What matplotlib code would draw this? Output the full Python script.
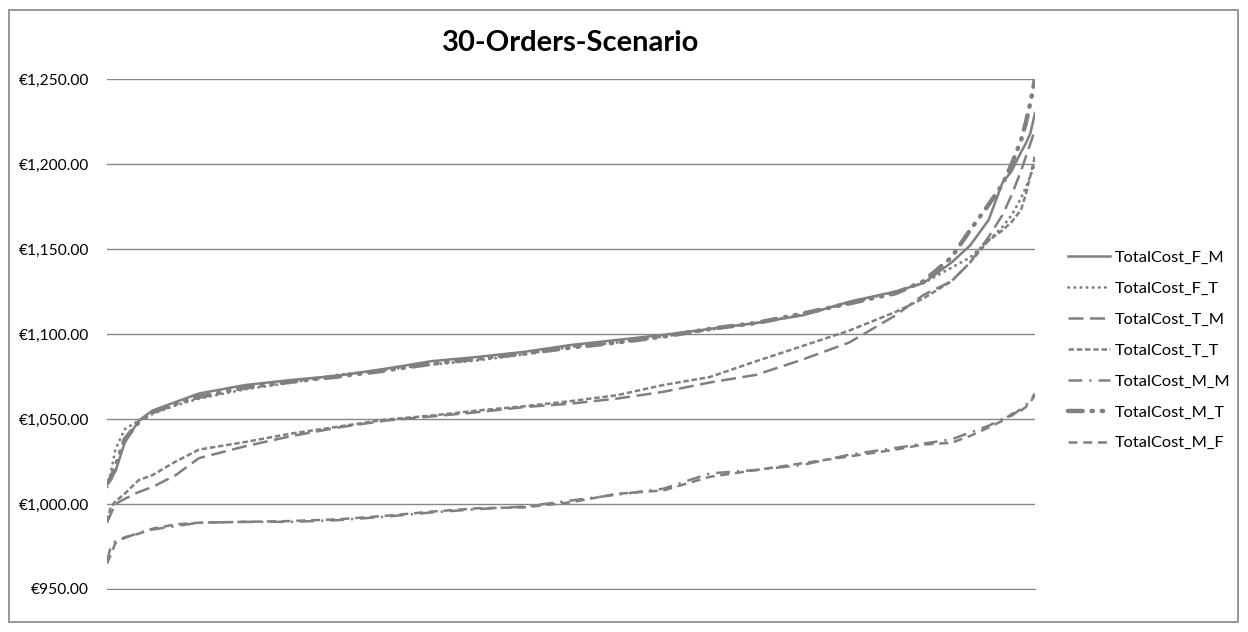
import matplotlib
matplotlib.use("Agg")
import matplotlib.pyplot as plt
from matplotlib.patches import Rectangle
from matplotlib.ticker import FuncFormatter

plt.rcParams['font.family'] = ['Lato', 'DejaVu Sans']

# sample number (out of 1000 sorted runs) at which each cost is taken
rank = [1, 5, 10, 20, 35, 50, 75, 100, 150, 200, 250, 300, 350, 400, 450, 500,
        550, 600, 650, 700, 750, 800, 850, 880, 910, 930, 950, 965, 975, 985,
        990, 995, 1000]

cost_F_M = [1013, 1016, 1019, 1036, 1049, 1055, 1060, 1065, 1070, 1073, 1075.5,
            1079.5, 1084, 1086.5, 1089.5, 1093.5, 1096.5, 1099.5, 1103, 1106.5,
            1111, 1119, 1125, 1130, 1142, 1152, 1167, 1189, 1196, 1207, 1212,
            1218, 1230]
cost_F_T = [1010, 1018, 1032, 1044, 1049, 1053, 1058, 1062, 1067.5, 1071.5, 1076,
            1079, 1082, 1084.5, 1088, 1092.5, 1095, 1098.5, 1102.5, 1106.5,
            1111.5, 1118, 1125, 1130, 1139, 1145, 1155, 1163, 1170, 1180, 1186,
            1193, 1200]
cost_T_M = [989, 994, 1000, 1003, 1007, 1010, 1017, 1027, 1034, 1040, 1045, 1049,
            1051.5, 1054, 1057, 1059, 1062, 1066, 1071.5, 1076, 1085, 1095, 1111,
            1123, 1131, 1142, 1157, 1170, 1182, 1196, 1204, 1212, 1220]
cost_T_T = [990, 998, 1001.5, 1006, 1014, 1017, 1025, 1032, 1036.5, 1041.5,
            1045.5, 1049.6, 1052, 1055, 1057.5, 1060.5, 1064, 1070, 1074.7, 1084,
            1093, 1102, 1113, 1121, 1131, 1142, 1155, 1161, 1166, 1173, 1182,
            1193, 1205]
cost_M_M = [966, 975, 978, 980, 983, 985, 987, 989, 989.5, 989.5, 990.5, 992.5,
            995, 997, 998.5, 1002, 1005.5, 1009, 1018, 1020, 1023, 1029, 1033,
            1035.5, 1038, 1042, 1046, 1050, 1052, 1056, 1058, 1061, 1065]
cost_M_T = [1012, 1015, 1022, 1038, 1048, 1054, 1059, 1063, 1068.5, 1072, 1075,
            1078.5, 1082.5, 1085.5, 1088.5, 1092, 1095, 1098.5, 1103, 1106.5,
            1112, 1118, 1124, 1131, 1145, 1161, 1176, 1188, 1200, 1214, 1224,
            1236, 1250]
cost_M_F = [965, 970, 977, 980.5, 982.5, 985.5, 988, 989, 989.5, 990, 991, 993,
            995.5, 997.5, 998, 1001, 1006, 1008, 1016, 1020, 1024, 1028, 1032,
            1035, 1036, 1040, 1045, 1049, 1053, 1055, 1057, 1060, 1064]

series = [
    ("TotalCost_F_M", cost_F_M, dict(lw=1.8, ls="-")),
    ("TotalCost_F_T", cost_F_T, dict(lw=2.1, ls=(0, (0.1, 2.0)), dash_capstyle="round")),
    ("TotalCost_T_M", cost_T_M, dict(lw=1.8, ls=(0, (6.0, 2.6)))),
    ("TotalCost_T_T", cost_T_T, dict(lw=1.8, ls=(0, (2.2, 1.1)))),
    ("TotalCost_M_M", cost_M_M, dict(lw=1.8, ls=(0, (5.5, 2.8, 0.9, 2.8)))),
    ("TotalCost_M_T", cost_M_T, dict(lw=3.2, ls=(0, (3.3, 2.0, 0.3, 2.0, 0.3, 2.0)),
                                     dash_capstyle="round")),
    ("TotalCost_M_F", cost_M_F, dict(lw=1.8, ls=(0, (3.6, 2.3)))),
]

fig = plt.figure(figsize=(12.48, 6.32), dpi=100)
ax = fig.add_axes([107 / 1248, 1 - 589 / 632, 928 / 1248, 510 / 632])

fig.patches.append(Rectangle((9 / 1248, 1 - 622 / 632), 1229 / 1248, 612 / 632,
                             transform=fig.transFigure, fill=False,
                             edgecolor="#868686", lw=1.2))

for name, vals, style in series:
    ax.plot(rank, vals, color="#808080", label=name, **style)

ax.set_xlim(1, 1000)
ax.set_ylim(950, 1250)
ax.set_yticks(range(950, 1251, 50))
ax.yaxis.set_major_formatter(FuncFormatter(lambda v, p: f"€{v:,.2f}"))
ax.tick_params(axis="y", length=0, pad=13, labelsize=11.2)
ax.set_xticks([])
ax.grid(axis="y", color="#868686", lw=1)
ax.set_axisbelow(True)
for side in ["left", "right", "top"]:
    ax.spines[side].set_visible(False)
ax.spines["bottom"].set_color("#868686")

ax.set_title("30-Orders-Scenario", fontsize=21, fontweight="bold", pad=20)

fig.legend(loc="center left", bbox_to_anchor=(1068 / 1248, 1 - 350.5 / 632),
           frameon=False, fontsize=11.8, handlelength=2.55, handletextpad=0.3,
           labelspacing=1.0, borderpad=0, borderaxespad=0)

fig.savefig("out.png", dpi=100, facecolor="white")
